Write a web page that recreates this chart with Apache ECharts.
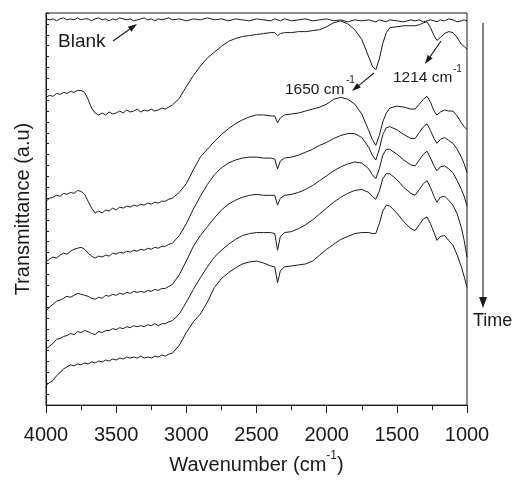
<!DOCTYPE html>
<html><head><meta charset="utf-8">
<script src="https://cdn.jsdelivr.net/npm/echarts@6/dist/echarts.min.js"></script>
<style>html,body{margin:0;padding:0;background:#fff}#c{width:514px;height:480px}</style>
</head><body><div id="c"></div>
<script>
// Wavenumber grid (cm-1)
const wavenumbers = [4000,3975,3950,3925,3900,3875,3850,3825,3800,3775,
  3750,3725,3700,3675,3650,3625,3600,3575,3550,3525,
  3500,3475,3450,3425,3400,3375,3350,3325,3300,3275,
  3250,3225,3200,3175,3150,3125,3100,
  3050,3000,2950,2900,2850,2800,2750,2700,2650,2600,
  2550,2500,2450,2400,2370,2350,2330,2300,2250,2200,
  2150,2100,2050,2000,1950,1900,1850,1800,1750,1700,
  1675,1650,1625,1600,1575,1550,1500,1450,1400,1370,
  1340,1310,1285,1260,1235,1214,1190,1160,1130,1100,
  1070,1040,1020,1000];
// Transmittance (a.u., offset traces)
const blank = [394,393,394,392,394,395,393,394,393,395,
  393,394,394,392,394,395,393,394,392,394,
  393,395,394,393,394,392,393,394,395,393,
  394,392,394,393,394,395,393,
  394,392,394,393,395,393,394,392,394,393,
  392,394,393,392,394,393,392,394,392,393,
  394,392,393,394,392,393,391,393,392,393,
  392,391,393,392,391,393,392,391,393,392,
  393,391,392,393,392,391,393,392,394,393,
  391,392,393,392];
const spectrum1 = [314,316,315,318,317,319,318,320,319,321,
  321,319,312,303,298,296,298,296,299,297,
  298,300,298,301,299,300,302,299,301,300,
  302,300,301,303,302,304,306,
  313,325,336,346,354,360,366,371,374,376,
  377,378,379,380,380,377,379,380,380,381,
  381,382,383,386,390,392,389,383,373,355,
  346,342,353,369,380,385,386,387,387,387,
  388,390,391,385,377,372,375,379,381,380,
  375,368,366,363];
const spectrum2 = [208,211,212,214,213,216,215,217,216,219,
  218,215,208,201,196,198,196,199,198,201,
  199,202,201,203,202,204,203,205,204,206,
  205,207,206,208,208,210,211,
  217,226,240,253,261,269,276,282,287,291,
  294,296,296,295,295,288,293,296,297,298,
  300,302,304,307,312,314,312,307,297,280,
  271,265,275,289,298,303,305,304,302,302,
  307,312,315,309,300,296,299,301,300,300,
  295,288,284,281];
const spectrum3 = [146,149,151,150,153,155,154,157,159,160,
  161,159,155,152,150,152,151,153,152,155,
  154,156,155,157,156,158,157,159,158,160,
  159,161,160,162,162,164,165,
  173,185,200,213,225,235,242,247,250,252,
  253,253,252,252,251,241,249,252,253,255,
  258,261,265,268,272,275,277,277,273,263,
  255,250,261,276,283,284,281,276,272,272,
  278,284,287,280,272,267,271,273,270,267,
  261,253,246,237];
const spectrum4 = [96,100,103,106,107,109,111,110,112,114,
  113,112,111,109,108,110,109,112,111,113,
  112,114,113,115,114,116,115,116,115,117,
  116,118,117,119,119,121,123,
  133,147,162,173,182,191,199,205,209,212,
  214,215,214,214,214,204,211,214,215,217,
  220,224,229,234,239,243,246,248,247,241,
  235,231,241,255,261,261,256,250,245,244,
  250,256,259,252,244,239,243,244,241,237,
  229,220,213,203];
const spectrum5 = [57,60,63,67,68,70,71,73,72,75,
  74,76,75,73,72,75,74,76,76,78,
  77,79,78,80,79,81,80,81,80,82,
  81,83,81,83,83,85,86,
  93,105,118,130,141,151,158,164,169,173,
  175,176,176,176,175,158,172,176,177,180,
  184,189,195,201,207,212,216,219,220,217,
  213,210,218,231,236,236,230,222,216,214,
  220,226,229,222,213,207,212,213,209,204,
  195,181,168,151];
const spectrum6 = [20,23,25,30,33,37,39,41,40,42,
  41,43,42,44,43,45,44,46,45,47,
  46,48,47,49,48,49,48,50,48,49,
  48,50,49,51,50,52,53,
  61,74,85,93,105,120,129,135,140,144,
  146,147,145,142,141,125,137,141,142,143,
  144,147,153,159,164,169,172,175,176,176,
  175,175,185,198,204,203,196,187,180,178,
  184,190,192,185,176,168,172,173,168,163,
  153,141,131,120];
const seriesNames = ['Blank','t1','t2','t3','t4','t5','t6'];
const allSeries = [blank, spectrum1, spectrum2, spectrum3, spectrum4, spectrum5, spectrum6];

const INK = '#1a1a1a';
const FONT = 'Liberation Sans, Arial, sans-serif';
const chart = echarts.init(document.getElementById('c'), null, {renderer: 'canvas'});

function arrow(x1, y1, x2, y2, hl, hw) {
  const a = Math.atan2(y2 - y1, x2 - x1);
  const bx = x2 - hl * Math.cos(a), by = y2 - hl * Math.sin(a);
  const px = -Math.sin(a) * hw / 2, py = Math.cos(a) * hw / 2;
  return [
    {type: 'line', shape: {x1: x1, y1: y1, x2: bx, y2: by}, style: {stroke: INK, lineWidth: 1.1}},
    {type: 'polygon', shape: {points: [[x2, y2], [bx + px, by + py], [bx - px, by - py]]}, style: {fill: INK}}
  ];
}
const txt = (x, y, s, fs) => ({type: 'text', x: x, y: y,
  style: {text: s, fontSize: fs, fontFamily: FONT, fill: INK, textVerticalAlign: 'middle'}});

const graphics = [].concat(
  [txt(58, 42, 'Blank', 19)],
  arrow(113, 41, 137, 24, 9, 6),
  [txt(285, 90, '1650 cm', 15.5), txt(346, 80, '-1', 10)],
  arrow(374, 73, 352, 91, 9, 6),
  [txt(393, 78, '1214 cm', 15.5), txt(453, 69, '-1', 10)],
  arrow(441, 41, 425, 64, 9, 6),
  arrow(483, 23, 483, 308, 11, 8),
  [txt(473, 321, 'Time', 18)]
);

chart.setOption({
  animation: false,
  backgroundColor: '#fff',
  textStyle: {fontFamily: FONT},
  grid: {left: 46, right: 47, top: 13, bottom: 67, show: true, borderColor: INK, borderWidth: 1},
  xAxis: {
    type: 'value', min: 1000, max: 4000, interval: 500, inverse: true,
    name: '{a|Wavenumber (cm}{b|-1}{a|)}', nameLocation: 'middle', nameGap: 31,
    nameTextStyle: {color: INK, rich: {a: {fontSize: 20, lineHeight: 30, color: INK, fontFamily: FONT},
      b: {fontSize: 12, lineHeight: 12, verticalAlign: 'top', color: INK, fontFamily: FONT}}},
    axisLine: {show: true, lineStyle: {color: INK, width: 1}},
    axisTick: {show: true, inside: false, length: 8, lineStyle: {color: INK}},
    minorTick: {show: true, splitNumber: 2, length: 5, lineStyle: {color: INK}},
    axisLabel: {fontSize: 20, color: INK, margin: 20, formatter: v => String(v)},
    splitLine: {show: false}, minorSplitLine: {show: false}
  },
  yAxis: {
    type: 'value', min: 0, max: 400, interval: 400 / 36,
    name: 'Transmittance (a.u)', nameLocation: 'middle', nameGap: 13,
    nameTextStyle: {fontSize: 20, color: INK},
    axisLine: {show: true, lineStyle: {color: INK, width: 1}},
    axisTick: {show: true, inside: true, length: 3, lineStyle: {color: INK}},
    axisLabel: {show: false},
    splitLine: {show: false}
  },
  series: allSeries.map((vals, k) => ({
    name: seriesNames[k], type: 'line', symbol: 'none', showSymbol: false,
    data: wavenumbers.map((w, i) => [w, vals[i]]),
    lineStyle: {color: INK, width: 1}
  })),
  graphic: graphics
});
</script>
</body></html>
